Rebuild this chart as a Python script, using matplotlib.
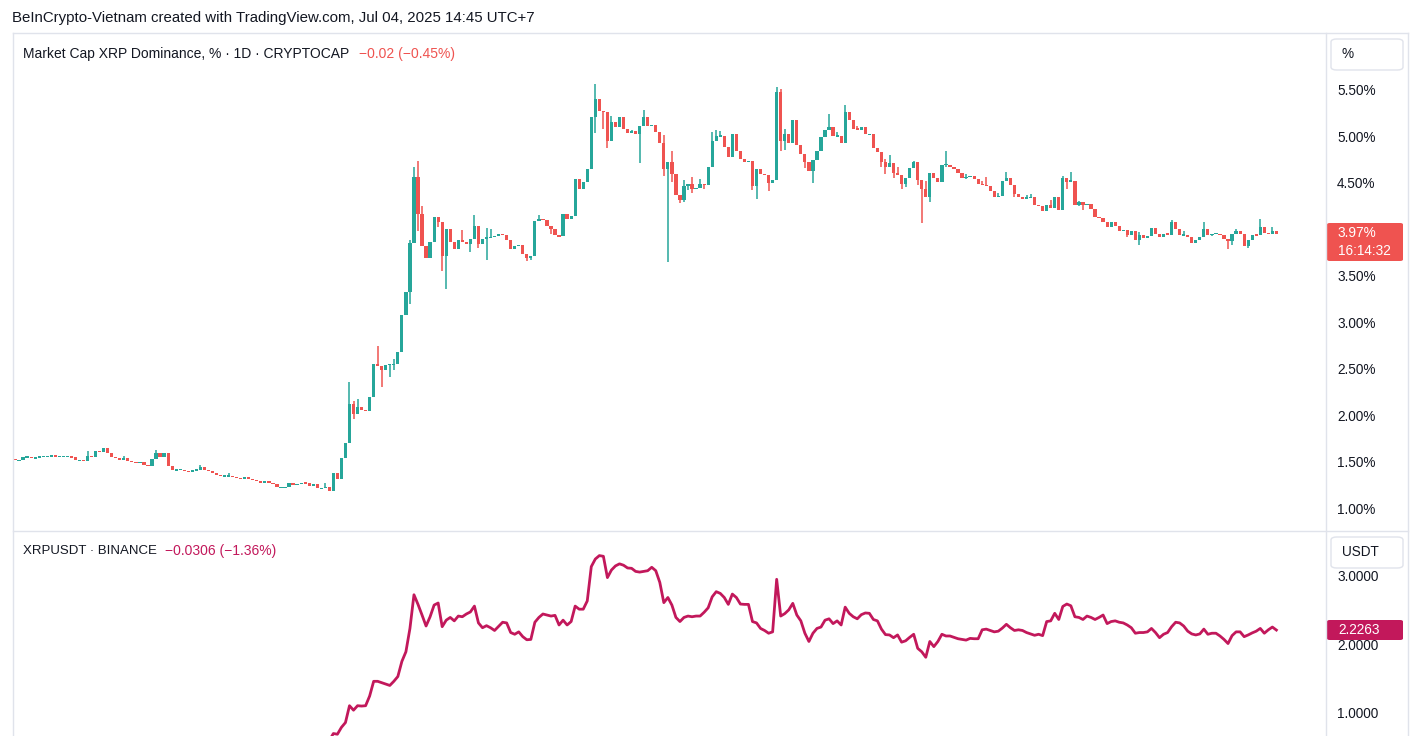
import matplotlib
matplotlib.use("Agg")
import matplotlib.pyplot as plt
from matplotlib.patches import FancyBboxPatch
from matplotlib.lines import Line2D
from matplotlib.transforms import blended_transform_factory

# ---------------- data ----------------
# daily closes of XRP dominance (%), day 1 .. 314
dom_close = [
    1.53, 1.53, 1.56, 1.57, 1.55, 1.56, 1.57, 1.57, 1.57, 1.59,
    1.57, 1.57, 1.57, 1.57, 1.56, 1.53, 1.53, 1.52, 1.58, 1.56,
    1.63, 1.62, 1.66, 1.61, 1.57, 1.55, 1.53, 1.55, 1.52, 1.51,
    1.50, 1.51, 1.48, 1.47, 1.54, 1.61, 1.57, 1.61, 1.47, 1.42,
    1.43, 1.43, 1.41, 1.405, 1.42, 1.43, 1.46, 1.43, 1.41, 1.39,
    1.37, 1.36, 1.36, 1.36, 1.35, 1.34, 1.33, 1.35, 1.33, 1.32,
    1.31, 1.29, 1.30, 1.29, 1.27, 1.24, 1.24, 1.24, 1.28, 1.27,
    1.27, 1.29, 1.28, 1.25, 1.27, 1.23, 1.23, 1.24, 1.20, 1.39,
    1.33, 1.55, 1.72, 2.14, 2.03, 2.10, 2.07, 2.06, 2.21, 2.57,
    2.54, 2.50, 2.56, 2.56, 2.57, 2.69, 3.09, 3.34, 3.87, 4.58,
    4.18, 3.84, 3.71, 3.88, 4.15, 4.10, 3.73, 4.02, 3.88, 3.80,
    3.90, 3.88, 3.86, 3.91, 4.05, 3.86, 3.91, 3.93, 3.93, 3.94,
    3.97, 3.95, 3.90, 3.80, 3.84, 3.85, 3.75, 3.71, 3.73, 4.11,
    4.13, 4.12, 4.05, 4.02, 3.95, 3.94, 4.18, 4.13, 4.16, 4.56,
    4.45, 4.52, 4.67, 5.23, 5.42, 5.29, 5.28, 4.97, 5.17, 5.12,
    5.22, 5.10, 5.05, 5.07, 5.04, 5.13, 5.23, 5.13, 5.14, 5.06,
    4.95, 4.67, 4.74, 4.61, 4.39, 4.33, 4.48, 4.50, 4.45, 4.46,
    4.50, 4.49, 4.69, 4.97, 5.02, 5.02, 4.90, 4.79, 5.04, 4.86,
    4.77, 4.74, 4.75, 4.48, 4.66, 4.61, 4.60, 4.51, 4.55, 5.49,
    4.97, 5.04, 4.95, 5.19, 4.92, 4.83, 4.74, 4.64, 4.76, 4.86,
    5.01, 5.08, 5.12, 5.02, 5.02, 4.95, 5.28, 5.19, 5.10, 5.09,
    5.12, 5.04, 5.04, 4.89, 4.85, 4.74, 4.69, 4.73, 4.62, 4.60,
    4.50, 4.57, 4.68, 4.74, 4.55, 4.45, 4.36, 4.62, 4.57, 4.53,
    4.71, 4.71, 4.69, 4.66, 4.62, 4.57, 4.58, 4.59, 4.56, 4.50,
    4.49, 4.48, 4.43, 4.36, 4.37, 4.54, 4.57, 4.49, 4.40, 4.36,
    4.34, 4.36, 4.36, 4.28, 4.27, 4.21, 4.28, 4.25, 4.36, 4.22,
    4.57, 4.53, 4.54, 4.28, 4.31, 4.28, 4.29, 4.24, 4.15, 4.14,
    4.10, 4.04, 4.09, 4.05, 4.00, 4.01, 3.96, 4.00, 3.90, 3.95,
    3.92, 3.94, 4.03, 3.97, 3.93, 3.97, 3.96, 4.09, 4.02, 3.95,
    3.96, 3.93, 3.87, 3.90, 3.93, 4.02, 3.95, 3.97, 3.97, 3.95,
    3.91, 3.89, 3.97, 4.00, 3.97, 3.84, 3.90, 3.96, 3.95, 4.04,
    3.98, 3.97, 4.00, 3.97,
]
dom_first_open = 1.545

# visible upper wicks (day: high)
dom_high = {
    19: 1.635, 28: 1.58, 36: 1.642, 47: 1.474, 54: 1.395, 78: 1.283,
    84: 2.37, 85: 2.17, 86: 2.19, 91: 2.765, 95: 2.62, 99: 3.90,
    100: 4.692, 101: 4.746, 102: 4.262, 112: 4.01, 115: 4.175, 118: 4.03,
    119: 4.02, 131: 4.165, 145: 5.575, 149: 5.241, 151: 5.23, 154: 5.09,
    157: 5.302, 162: 5.036, 164: 4.857, 167: 4.549, 169: 4.577, 171: 4.559,
    174: 5.062, 175: 5.08, 176: 5.069, 190: 5.546, 191: 5.528, 192: 5.097,
    203: 5.252, 205: 5.062, 207: 5.349, 210: 5.133, 217: 4.775, 218: 4.821,
    220: 4.69, 224: 4.75, 227: 4.534, 232: 4.857, 237: 4.613, 241: 4.541,
    242: 4.584, 245: 4.405, 247: 4.638, 252: 4.38, 253: 4.391, 258: 4.333,
    261: 4.595, 263: 4.631, 265: 4.326, 280: 3.985, 288: 4.111, 291: 3.996,
    296: 4.10, 304: 4.02, 310: 4.129, 313: 4.046,
}
# visible lower wicks (day: low)
dom_low = {
    85: 1.976, 92: 2.317, 94: 2.425, 95: 2.50, 99: 3.214, 101: 4.003,
    106: 4.04, 107: 3.565, 108: 3.372, 114: 3.77, 116: 3.817, 118: 3.687,
    128: 3.68, 129: 3.687, 134: 3.967, 145: 5.051, 147: 5.098, 148: 4.893,
    156: 4.728, 162: 4.588, 163: 3.669, 164: 4.523, 166: 4.297, 167: 4.308,
    168: 4.44, 169: 4.405, 172: 4.45, 184: 4.434, 185: 4.344, 188: 4.427,
    191: 4.864, 192: 4.871, 197: 4.678, 199: 4.513, 216: 4.692, 217: 4.613,
    219: 4.57, 221: 4.45, 222: 4.47, 225: 4.488, 226: 4.082, 228: 4.308,
    232: 4.69, 237: 4.559, 249: 4.36, 262: 4.45, 265: 4.265, 266: 4.226,
    277: 3.938, 280: 3.852, 298: 3.94, 302: 3.799, 303: 3.842, 307: 3.817,
}

# XRPUSDT daily close, starting at day 79 (earlier days fall below the pane)
xrp_first_day = 79
xrp_close = [
    0.62, 0.72, 0.71, 0.81, 0.88, 1.125, 1.06, 1.125, 1.12, 1.125, 1.266, 1.48,
    1.48, 1.46, 1.44, 1.42, 1.48, 1.55, 1.77, 1.91, 2.25, 2.74,
    2.60, 2.445, 2.285, 2.42, 2.59, 2.62, 2.275, 2.37, 2.41, 2.36,
    2.43, 2.42, 2.46, 2.49, 2.575, 2.33, 2.26, 2.29, 2.26, 2.22,
    2.28, 2.34, 2.33, 2.19, 2.165, 2.20, 2.13, 2.085, 2.09, 2.34,
    2.41, 2.46, 2.445, 2.43, 2.44, 2.30, 2.37, 2.30, 2.35, 2.575,
    2.53, 2.53, 2.65, 3.15, 3.26, 3.31, 3.30, 2.99, 3.10, 3.16,
    3.19, 3.17, 3.13, 3.125, 3.08, 3.07, 3.08, 3.09, 3.14, 3.09,
    2.92, 2.625, 2.70, 2.59, 2.41, 2.35, 2.41, 2.43, 2.42, 2.43,
    2.43, 2.485, 2.55, 2.71, 2.785, 2.76, 2.70, 2.60, 2.75, 2.70,
    2.605, 2.60, 2.60, 2.35, 2.33, 2.25, 2.22, 2.18, 2.20, 2.965,
    2.43, 2.465, 2.52, 2.615, 2.445, 2.36, 2.18, 2.06, 2.18, 2.25,
    2.27, 2.37, 2.39, 2.32, 2.36, 2.30, 2.56, 2.47, 2.42, 2.39,
    2.45, 2.475, 2.47, 2.38, 2.36, 2.24, 2.16, 2.155, 2.115, 2.155,
    2.05, 2.07, 2.12, 2.165, 1.96, 1.91, 1.83, 2.06, 1.985, 2.06,
    2.165, 2.14, 2.14, 2.12, 2.10, 2.09, 2.08, 2.105, 2.10, 2.10,
    2.23, 2.24, 2.22, 2.20, 2.21, 2.255, 2.31, 2.26, 2.22, 2.23,
    2.22, 2.19, 2.17, 2.15, 2.165, 2.145, 2.35, 2.36, 2.47, 2.38,
    2.57, 2.605, 2.58, 2.42, 2.41, 2.38, 2.43, 2.41, 2.38, 2.41,
    2.445, 2.32, 2.35, 2.36, 2.34, 2.33, 2.30, 2.26, 2.18, 2.19,
    2.19, 2.20, 2.25, 2.19, 2.115, 2.165, 2.19, 2.275, 2.34, 2.33,
    2.285, 2.21, 2.17, 2.155, 2.17, 2.24, 2.165, 2.18, 2.18, 2.14,
    2.09, 2.03, 2.145, 2.20, 2.20, 2.13, 2.155, 2.185, 2.21, 2.25,
    2.18, 2.23, 2.27, 2.2263,
]

dom_ticks = [1.0, 1.5, 2.0, 2.5, 3.0, 3.5, 4.5, 5.0, 5.5]
dom_tick_labels = ["1.00%", "1.50%", "2.00%", "2.50%", "3.00%", "3.50%", "4.50%", "5.00%", "5.50%"]
xrp_ticks = [1.0, 2.0, 3.0]
xrp_tick_labels = ["1.0000", "2.0000", "3.0000"]

title_text = "BeInCrypto-Vietnam created with TradingView.com, Jul 04, 2025 14:45 UTC+7"
dom_name = "Market Cap XRP Dominance, % · 1D · CRYPTOCAP"
dom_change = "−0.02 (−0.45%)"
xrp_name = "XRPUSDT · BINANCE"
xrp_change = "−0.0306 (−1.36%)"
dom_last_label = "3.97%"
dom_countdown = "16:14:32"
xrp_last_label = "2.2263"

# ---------------- style ----------------
W, H = 1421, 736
UP, DOWN = "#26a69a", "#ef5350"
XRP_COLOR = "#c2185b"
TXT = "#131722"
BORDER = "#e0e3eb"
plt.rcParams["font.family"] = ["Liberation Sans", "DejaVu Sans"]

fig = plt.figure(figsize=(W / 100, H / 100), dpi=100, facecolor="white")

def fx(x):
    return x / W

def fy(y):
    return 1 - y / H

PLOT_L, PLOT_R = 13, 1326
TOP, DIV, BOT = 33, 531, 736

ax1 = fig.add_axes([fx(PLOT_L), fy(DIV), fx(PLOT_R - PLOT_L), (DIV - TOP) / H])
ax2 = fig.add_axes([fx(PLOT_L), 0, fx(PLOT_R - PLOT_L), (BOT - DIV) / H])

# x mapping: day 1 at px 15, 4.03 px per day
x_left = 1 + (PLOT_L - 15) / 4.03
x_right = 1 + (PLOT_R - 15) / 4.03
for ax in (ax1, ax2):
    ax.set_xlim(x_left, x_right)
    ax.axis("off")

# dominance scale: 1.00 at y=509.5, 92.9 px per 1%
ax1.set_ylim(1 - (DIV - 509.5) / 92.9, 1 + (509.5 - TOP) / 92.9)
# XRP scale: 1.0 at y=714.3, 68.7 px per 1 USDT
ax2.set_ylim(1 - (BOT - 714.3) / 68.7, 1 + (714.3 - DIV) / 68.7)

# ---------------- candles ----------------
n = len(dom_close)
days = list(range(1, n + 1))
opens = [dom_first_open] + dom_close[:-1]
min_h = 0.013
for d, o, c in zip(days, opens, dom_close):
    col = UP if c >= o else DOWN
    lo_b, hi_b = min(o, c), max(o, c)
    hi = dom_high.get(d, hi_b)
    lo = dom_low.get(d, lo_b)
    if hi > hi_b or lo < lo_b:
        ax1.vlines(d, lo, hi, color=col, linewidth=1.1, zorder=2)
    h = hi_b - lo_b
    if h < min_h:
        mid = (hi_b + lo_b) / 2
        lo_b, h = mid - min_h / 2, min_h
    ax1.bar(d, h, bottom=lo_b, width=0.8, color=col, linewidth=0, zorder=3)

# ---------------- XRP line ----------------
xrp_days = list(range(xrp_first_day, xrp_first_day + len(xrp_close)))
ax2.plot(xrp_days, xrp_close, color=XRP_COLOR, linewidth=2.0, solid_joinstyle="round")

# ---------------- frame lines ----------------
def hline(y, x0, x1):
    fig.add_artist(Line2D([fx(x0), fx(x1)], [fy(y), fy(y)], color=BORDER, linewidth=1.0))

def vline(x, y0, y1):
    fig.add_artist(Line2D([fx(x), fx(x)], [fy(y0), fy(y1)], color=BORDER, linewidth=1.0))

hline(TOP, 13, 1408)
hline(DIV, 13, 1408)
vline(13, TOP, BOT)
vline(PLOT_R, TOP, BOT)
vline(1408, TOP, BOT)

# ---------------- texts ----------------
fig.text(fx(12), fy(18), title_text, fontsize=10.8, color=TXT, va="center", ha="left")
fig.text(fx(23), fy(54), dom_name, fontsize=10, color=TXT, va="center", ha="left")
fig.text(fx(359), fy(54), dom_change, fontsize=10, color=DOWN, va="center", ha="left")
fig.text(fx(23), fy(551), xrp_name, fontsize=9.5, color=TXT, va="center", ha="left")
fig.text(fx(165), fy(551), xrp_change, fontsize=10, color=XRP_COLOR, va="center", ha="left")

tr1 = blended_transform_factory(fig.transFigure, ax1.transData)
for v, lab in zip(dom_ticks, dom_tick_labels):
    ax1.text(fx(1337), v, lab, transform=tr1, fontsize=9.8, color=TXT, va="center", ha="left", clip_on=False)
tr2 = blended_transform_factory(fig.transFigure, ax2.transData)
for v, lab in zip(xrp_ticks, xrp_tick_labels):
    ax2.text(fx(1337), v, lab, transform=tr2, fontsize=9.8, color=TXT, va="center", ha="left", clip_on=False)

# unit boxes
def unit_box(y0, y1, label):
    box = FancyBboxPatch((fx(1331), fy(y1)), fx(72), (y1 - y0) / H,
                         boxstyle="round,pad=0,rounding_size=0.004",
                         transform=fig.transFigure, facecolor="white",
                         edgecolor=BORDER, linewidth=1.0)
    fig.add_artist(box)
    fig.text(fx(1342), fy((y0 + y1) / 2), label, fontsize=9.8, color=TXT, va="center", ha="left")

unit_box(39, 70, "%")
unit_box(537, 568, "USDT")

# last-value labels
fig.add_artist(FancyBboxPatch((fx(1327), fy(261)), fx(76), 38 / H,
                              boxstyle="round,pad=0,rounding_size=0.002",
                              transform=fig.transFigure, facecolor=DOWN, edgecolor="none"))
fig.text(fx(1338), fy(233), dom_last_label, fontsize=9.8, color="white", va="center", ha="left")
fig.text(fx(1338), fy(251), dom_countdown, fontsize=9.8, color="white", va="center", ha="left")

fig.add_artist(FancyBboxPatch((fx(1327), fy(640)), fx(76), 20 / H,
                              boxstyle="round,pad=0,rounding_size=0.002",
                              transform=fig.transFigure, facecolor=XRP_COLOR, edgecolor="none"))
fig.text(fx(1338), fy(630), xrp_last_label, fontsize=9.8, color="white", va="center", ha="left")

fig.savefig("out.png", dpi=100, facecolor="white")
